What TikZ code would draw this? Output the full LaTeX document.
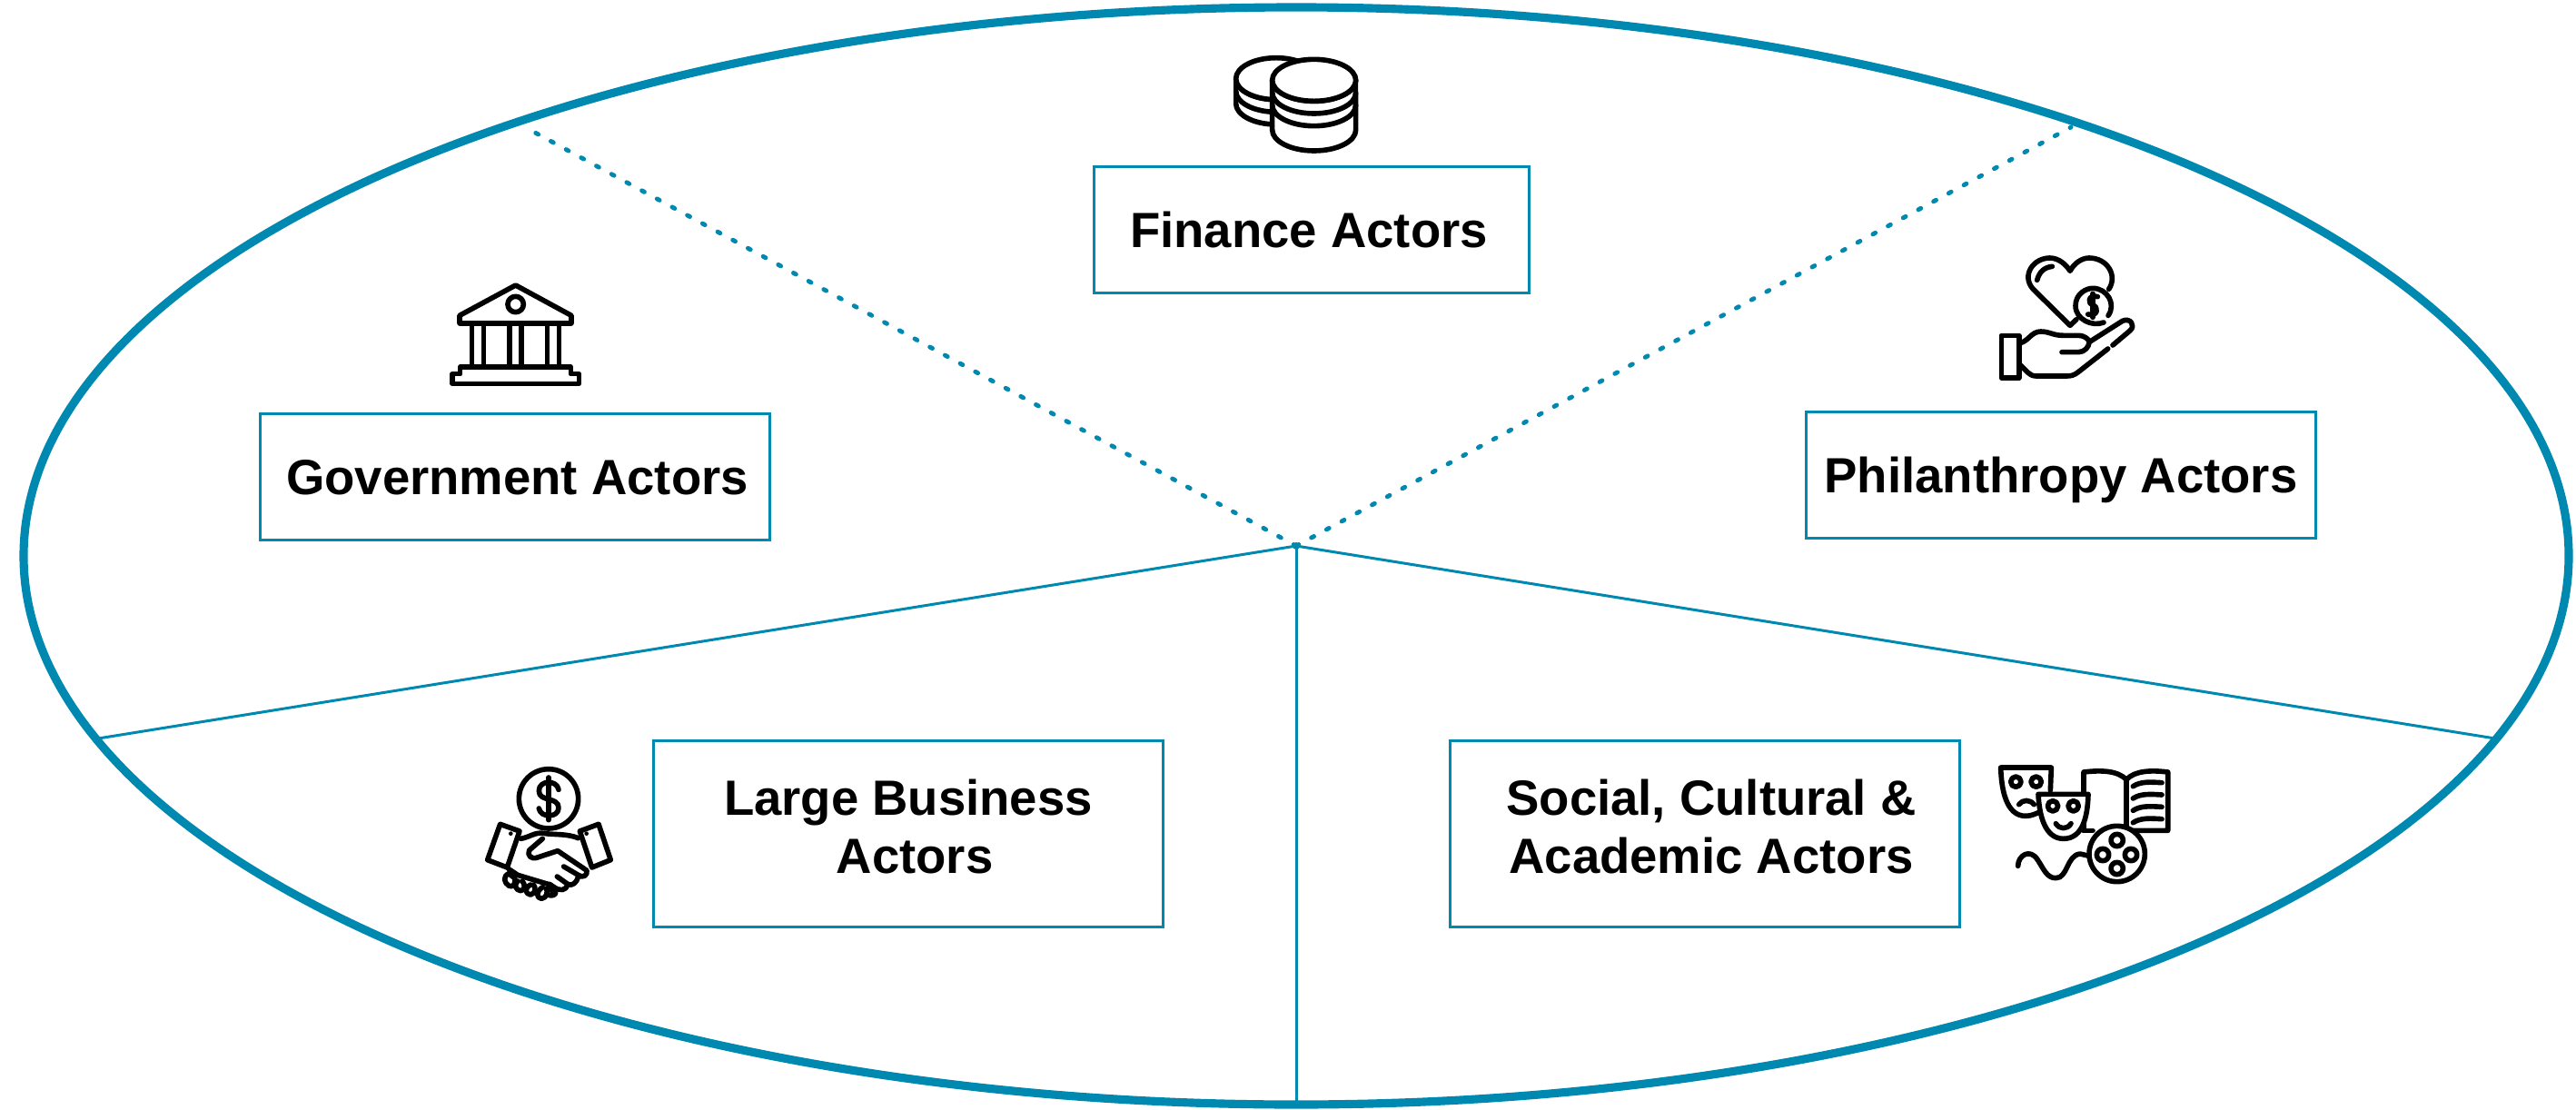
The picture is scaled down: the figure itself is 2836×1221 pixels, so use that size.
\documentclass[tikz,border=0pt]{standalone}
\usepackage{fontspec}
\setmainfont{Liberation Sans}
\usepackage{tikz}
\usetikzlibrary{positioning,calc}
\definecolor{rimblue}{RGB}{0,137,176}
\tikzset{
  actor/.style={draw=rimblue,line width=0.85pt,inner sep=0pt,align=center,text=black,
    font=\fontsize{15.5}{18.2}\selectfont\bfseries,minimum width=5.60cm},
  oneline/.style={actor,minimum height=1.38cm,text height=11pt,text depth=0pt},
  twoline/.style={actor,minimum height=2.04cm,text depth=0.16cm},
  divider/.style={draw=rimblue,line width=0.85pt},
  dotline/.style={draw=rimblue,line width=1.4pt,line cap=round,dash pattern=on 0.9pt off 4.5pt},
  icon/.style={draw=black,line width=1.6pt,line cap=round,line join=round},
  iconbox/.style={shift={#1},scale=1/3}
}
\begin{document}
\begin{tikzpicture}[x=0.01cm,y=-0.01cm]
\useasboundingbox (0,0) rectangle (2836,1221);
\draw[rimblue,line width=2.6pt] (1427,612) ellipse [x radius=1401,y radius=604];
% ends of the dividers
\coordinate (hub) at (1427,601);
\coordinate (govtop) at (578,140);
\coordinate (philtop) at (2280,140);
\coordinate (bizend) at (108,813);
\coordinate (socend) at (2747,813);
\coordinate (bottom) at (1427,1217);
\draw[dotline] (hub) -- (govtop);
\draw[dotline] (hub) -- (philtop);
\draw[divider] (hub) -- (bizend);
\draw[divider] (hub) -- (socend);
\draw[divider] (hub) -- (bottom);
\fill[rimblue] (hub) circle (4);
% boxes
\node[oneline,minimum width=4.79cm] (finance) at (1444,253) {Finance Actors\hspace*{0.06cm}};
\node[oneline] (government) at (567,525) {\hspace*{0.05cm}Government Actors};
\node[oneline] (philanthropy) at (2269,523) {Philanthropy Actors};
\node[twoline] (business) at (1000,918) {Large Business\\\hspace*{0.14cm}Actors};
\node[twoline] (social) at (1877,918) {\hspace*{0.14cm}Social, Cultural \&\\\hspace*{0.14cm}Academic Actors};
% coins
\begin{scope}[iconbox={(1250,30)}]
\draw[icon] (332,170) -- (332,252);
\foreach \y in {0,41,82}
  \draw[icon] (332,170+\y) arc [start angle=180,end angle=0,x radius=133,y radius=69];
\draw[icon,fill=white] (465,170) ellipse [x radius=133,y radius=69];
\draw[icon,fill=white] (452,175) -- (452,339) arc [start angle=180,end angle=0,x radius=138,y radius=69] -- (727,175) -- cycle;
\foreach \y in {0,41,82}
  \draw[icon] (452,175+\y) arc [start angle=180,end angle=0,x radius=138,y radius=69];
\draw[icon,fill=white] (590,175) ellipse [x radius=138,y radius=69];
\end{scope}
% bank
\begin{scope}[iconbox={(460,290)}]
\draw[icon] (323,72) -- (507,172) -- (507,198) -- (138,198) -- (138,172) -- cycle;
\draw[icon] (323,135) circle (26);
\foreach \x in {178,218,303,342,427,466}
  \draw[icon] (\x,198) -- (\x,342);
\draw[icon] (140,342) -- (505,342) -- (505,365) -- (532,365) -- (532,397) -- (114,397) -- (114,365) -- (140,365) -- cycle;
\end{scope}
% heart and hand
\begin{scope}[iconbox={(2150,260)}]
\draw[icon] (408,275) -- (387,295) -- (265,175) .. controls (225,130) and (265,72) .. (320,72) .. controls (350,72) and (375,95) .. (387,115) .. controls (400,90) and (425,72) .. (450,72) .. controls (510,72) and (545,130) .. (515,175);
\draw[icon] (278,145) .. controls (285,120) and (300,103) .. (328,100);
\draw[icon] (498,285) .. controls (460,300) and (405,275) .. (405,230) .. controls (405,190) and (440,172) .. (462,172) .. controls (510,172) and (540,225) .. (513,262);
\draw[icon] (478,200) .. controls (445,190) and (445,225) .. (462,228) .. controls (482,232) and (480,268) .. (446,258);
\draw[icon] (462,190) -- (462,268);
\draw[icon] (160,328) rectangle (218,468);
\draw[icon] (225,352) .. controls (250,345) and (260,315) .. (290,315) .. controls (320,315) and (330,328) .. (365,328) -- (415,328) .. controls (440,328) and (455,350) .. (450,350) -- (560,280) .. controls (585,268) and (605,295) .. (585,312) -- (528,360);
\draw[icon] (360,383) -- (415,383) .. controls (435,383) and (450,365) .. (450,350);
\draw[icon] (512,372) -- (415,448) .. controls (400,460) and (390,462) .. (375,462) -- (275,462) .. controls (250,462) and (240,440) .. (222,425);
\end{scope}
% handshake
\begin{scope}[iconbox={(510,830)}]
\draw[icon] (282,148) circle (98);
\draw[icon] (315,118) .. controls (310,85) and (250,85) .. (250,122) .. controls (250,160) and (315,140) .. (315,178) .. controls (315,212) and (255,212) .. (250,180);
\draw[icon] (282,78) -- (282,218);
\draw[icon] (122,232) -- (186,255) -- (145,375) -- (80,350) -- cycle;
\draw[icon] (385,255) -- (447,232) -- (487,350) -- (425,375) -- cycle;
\fill (157,263) circle (7);
\fill (407,263) circle (7);
\draw[icon] (190,280) .. controls (220,275) and (235,258) .. (265,262) .. controls (300,268) and (340,262) .. (380,278);
\draw[icon] (262,280) -- (218,318) .. controls (210,335) and (225,350) .. (245,342) -- (312,320) -- (408,385) .. controls (412,400) and (395,412) .. (380,400) -- (332,372);
\draw[icon] (380,405) .. controls (375,425) and (360,438) .. (345,430) -- (310,405);
\draw[icon] (345,432) .. controls (340,450) and (320,455) .. (300,440) -- (285,430);
\draw[icon] (150,380) -- (180,400) -- (280,430);
\draw[icon] (150,395) .. controls (130,405) and (135,425) .. (150,435) .. controls (165,445) and (175,425) .. (170,410) -- (150,395);
\draw[icon] (180,420) .. controls (165,435) and (175,450) .. (190,452) .. controls (205,450) and (205,430) .. (195,420);
\draw[icon] (222,432) .. controls (200,445) and (205,462) .. (222,465) .. controls (240,462) and (240,440) .. (232,432);
\draw[icon] (262,440) .. controls (240,455) and (240,475) .. (258,478) .. controls (275,475) and (280,460) .. (275,445);
\draw[icon] (285,445) -- (305,460) .. controls (300,470) and (285,470) .. (275,462);
\end{scope}
% masks, book and reel
\begin{scope}[iconbox={(2180,825)}]
\draw[icon] (342,268) -- (342,75) .. controls (400,68) and (455,70) .. (483,100) .. controls (510,70) and (565,68) .. (620,75) -- (620,268) -- (495,268);
\draw[icon] (342,268) -- (372,268);
\draw[icon] (483,100) -- (483,250);
\foreach \y in {0,40,80,120}
  \draw[icon] (505,122+\y) .. controls (530,105+\y) and (565,108+\y) .. (600,110+\y);
\draw[icon] (232,135) -- (235,60) -- (68,60) .. controls (70,130) and (85,220) .. (150,220) .. controls (170,220) and (185,212) .. (200,205);
\draw[icon] (118,107) circle (17);
\draw[icon] (185,107) circle (17);
\draw[icon] (128,182) .. controls (140,165) and (165,165) .. (178,182);
\draw[icon,fill=white] (192,148) -- (357,148) .. controls (355,220) and (340,295) .. (275,295) .. controls (215,295) and (195,220) .. (192,148) -- cycle;
\draw[icon] (240,187) circle (17);
\draw[icon] (308,187) circle (17);
\draw[icon] (250,245) .. controls (262,265) and (288,265) .. (300,245);
\draw[icon,fill=white] (452,345) circle (92);
\foreach \a/\b in {452/300,405/348,498/348,452/393}
  \draw[icon] (\a,\b) circle (20);
\draw[icon] (125,385) .. controls (125,350) and (165,325) .. (190,365) .. controls (210,395) and (220,425) .. (250,425) .. controls (290,425) and (285,350) .. (330,345) -- (360,352);
\end{scope}
\end{tikzpicture}
\end{document}
